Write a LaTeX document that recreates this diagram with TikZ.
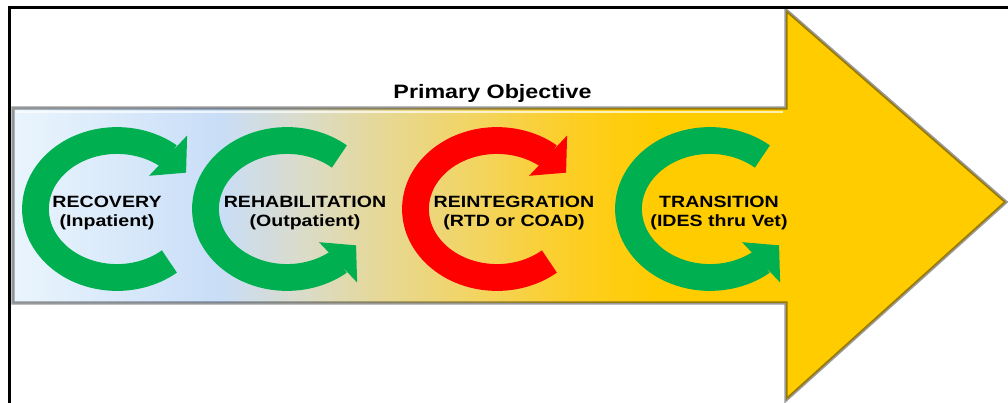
\documentclass[tikz,border=0pt]{standalone}
\usepackage{fontspec}
\setmainfont[FakeStretch=1.2]{Liberation Sans}
\usetikzlibrary{arrows.meta,bending}

\definecolor{cyclegreen}{HTML}{00B050}
\definecolor{cyclered}{HTML}{FF0000}
\definecolor{headgold}{HTML}{FFCC00}
\definecolor{shA}{HTML}{EAF5FD}
\definecolor{shB}{HTML}{D9E9FA}
\definecolor{shC}{HTML}{C8DDF7}
\definecolor{shD}{HTML}{DADCCB}
\definecolor{shE}{HTML}{E6D898}
\definecolor{shF}{HTML}{F3D45E}
\definecolor{shG}{HTML}{FDCE20}
\pgfdeclarehorizontalshading{objshade}{100bp}{color(0bp)=(shA); color(25bp)=(shA);
  color(30.4bp)=(shB); color(35.4bp)=(shC); color(39.4bp)=(shD); color(43.4bp)=(shE);
  color(48.5bp)=(shF); color(53.5bp)=(shG); color(57.5bp)=(headgold); color(100bp)=(headgold)}

\begin{document}
\begin{tikzpicture}[x=0.025cm,y=0.025cm,
    turnarrow/.style={line width=0.67cm,-{Triangle[length=0.62cm,width=1.35cm]}},
    cyclelabel/.style={font=\bfseries\fontsize{11.6}{14}\selectfont,align=center,inner sep=0pt}]
      \useasboundingbox (0,0) rectangle (1008,402);
      \fill[white] (0,0) rectangle (1008,402);
      \draw[line width=0.06cm] (9.7,-5) -- (9.7,394.3) -- (1015,394.3);
      % big arrow
      \draw[shading=objshade,draw=black,draw opacity=0.4,line width=0.08cm]
        (13,294) -- (786,294) -- (786,392) -- (1006,200) -- (786,2) -- (786,99) -- (13,99) -- cycle;
      \draw[white,opacity=0.7,line width=0.05cm] (16,290) -- (783,290);
      \node[font=\bfseries\fontsize{13.8}{16}\selectfont,anchor=base,inner sep=0pt] (objective) at (492.5,303) {Primary Objective};
      % circular arrows
      \draw[turnarrow,cyclegreen] (117,193) ++(-50:81.5 and 68.5) arc[start angle=-50,end angle=-328,x radius=81.5,y radius=68.5];
      \draw[turnarrow,cyclegreen] (287,193) ++(50:81.5 and 68.5) arc[start angle=50,end angle=328,x radius=81.5,y radius=68.5];
      \draw[turnarrow,cyclered] (497,193) ++(-50:81.5 and 68.5) arc[start angle=-50,end angle=-328,x radius=81.5,y radius=68.5];
      \draw[turnarrow,cyclegreen] (710,193) ++(50:81.5 and 68.5) arc[start angle=50,end angle=328,x radius=81.5,y radius=68.5];
      \node[cyclelabel] (recovery) at (107,189) {RECOVERY\\(Inpatient)};
      \node[cyclelabel] (rehab) at (305,189) {REHABILITATION\\(Outpatient)};
      \node[cyclelabel] (reint) at (514,189) {REINTEGRATION\\(RTD or COAD)};
      \node[cyclelabel] (transition) at (719,189) {TRANSITION\\(IDES thru Vet)};
    \end{tikzpicture}
\end{document}
